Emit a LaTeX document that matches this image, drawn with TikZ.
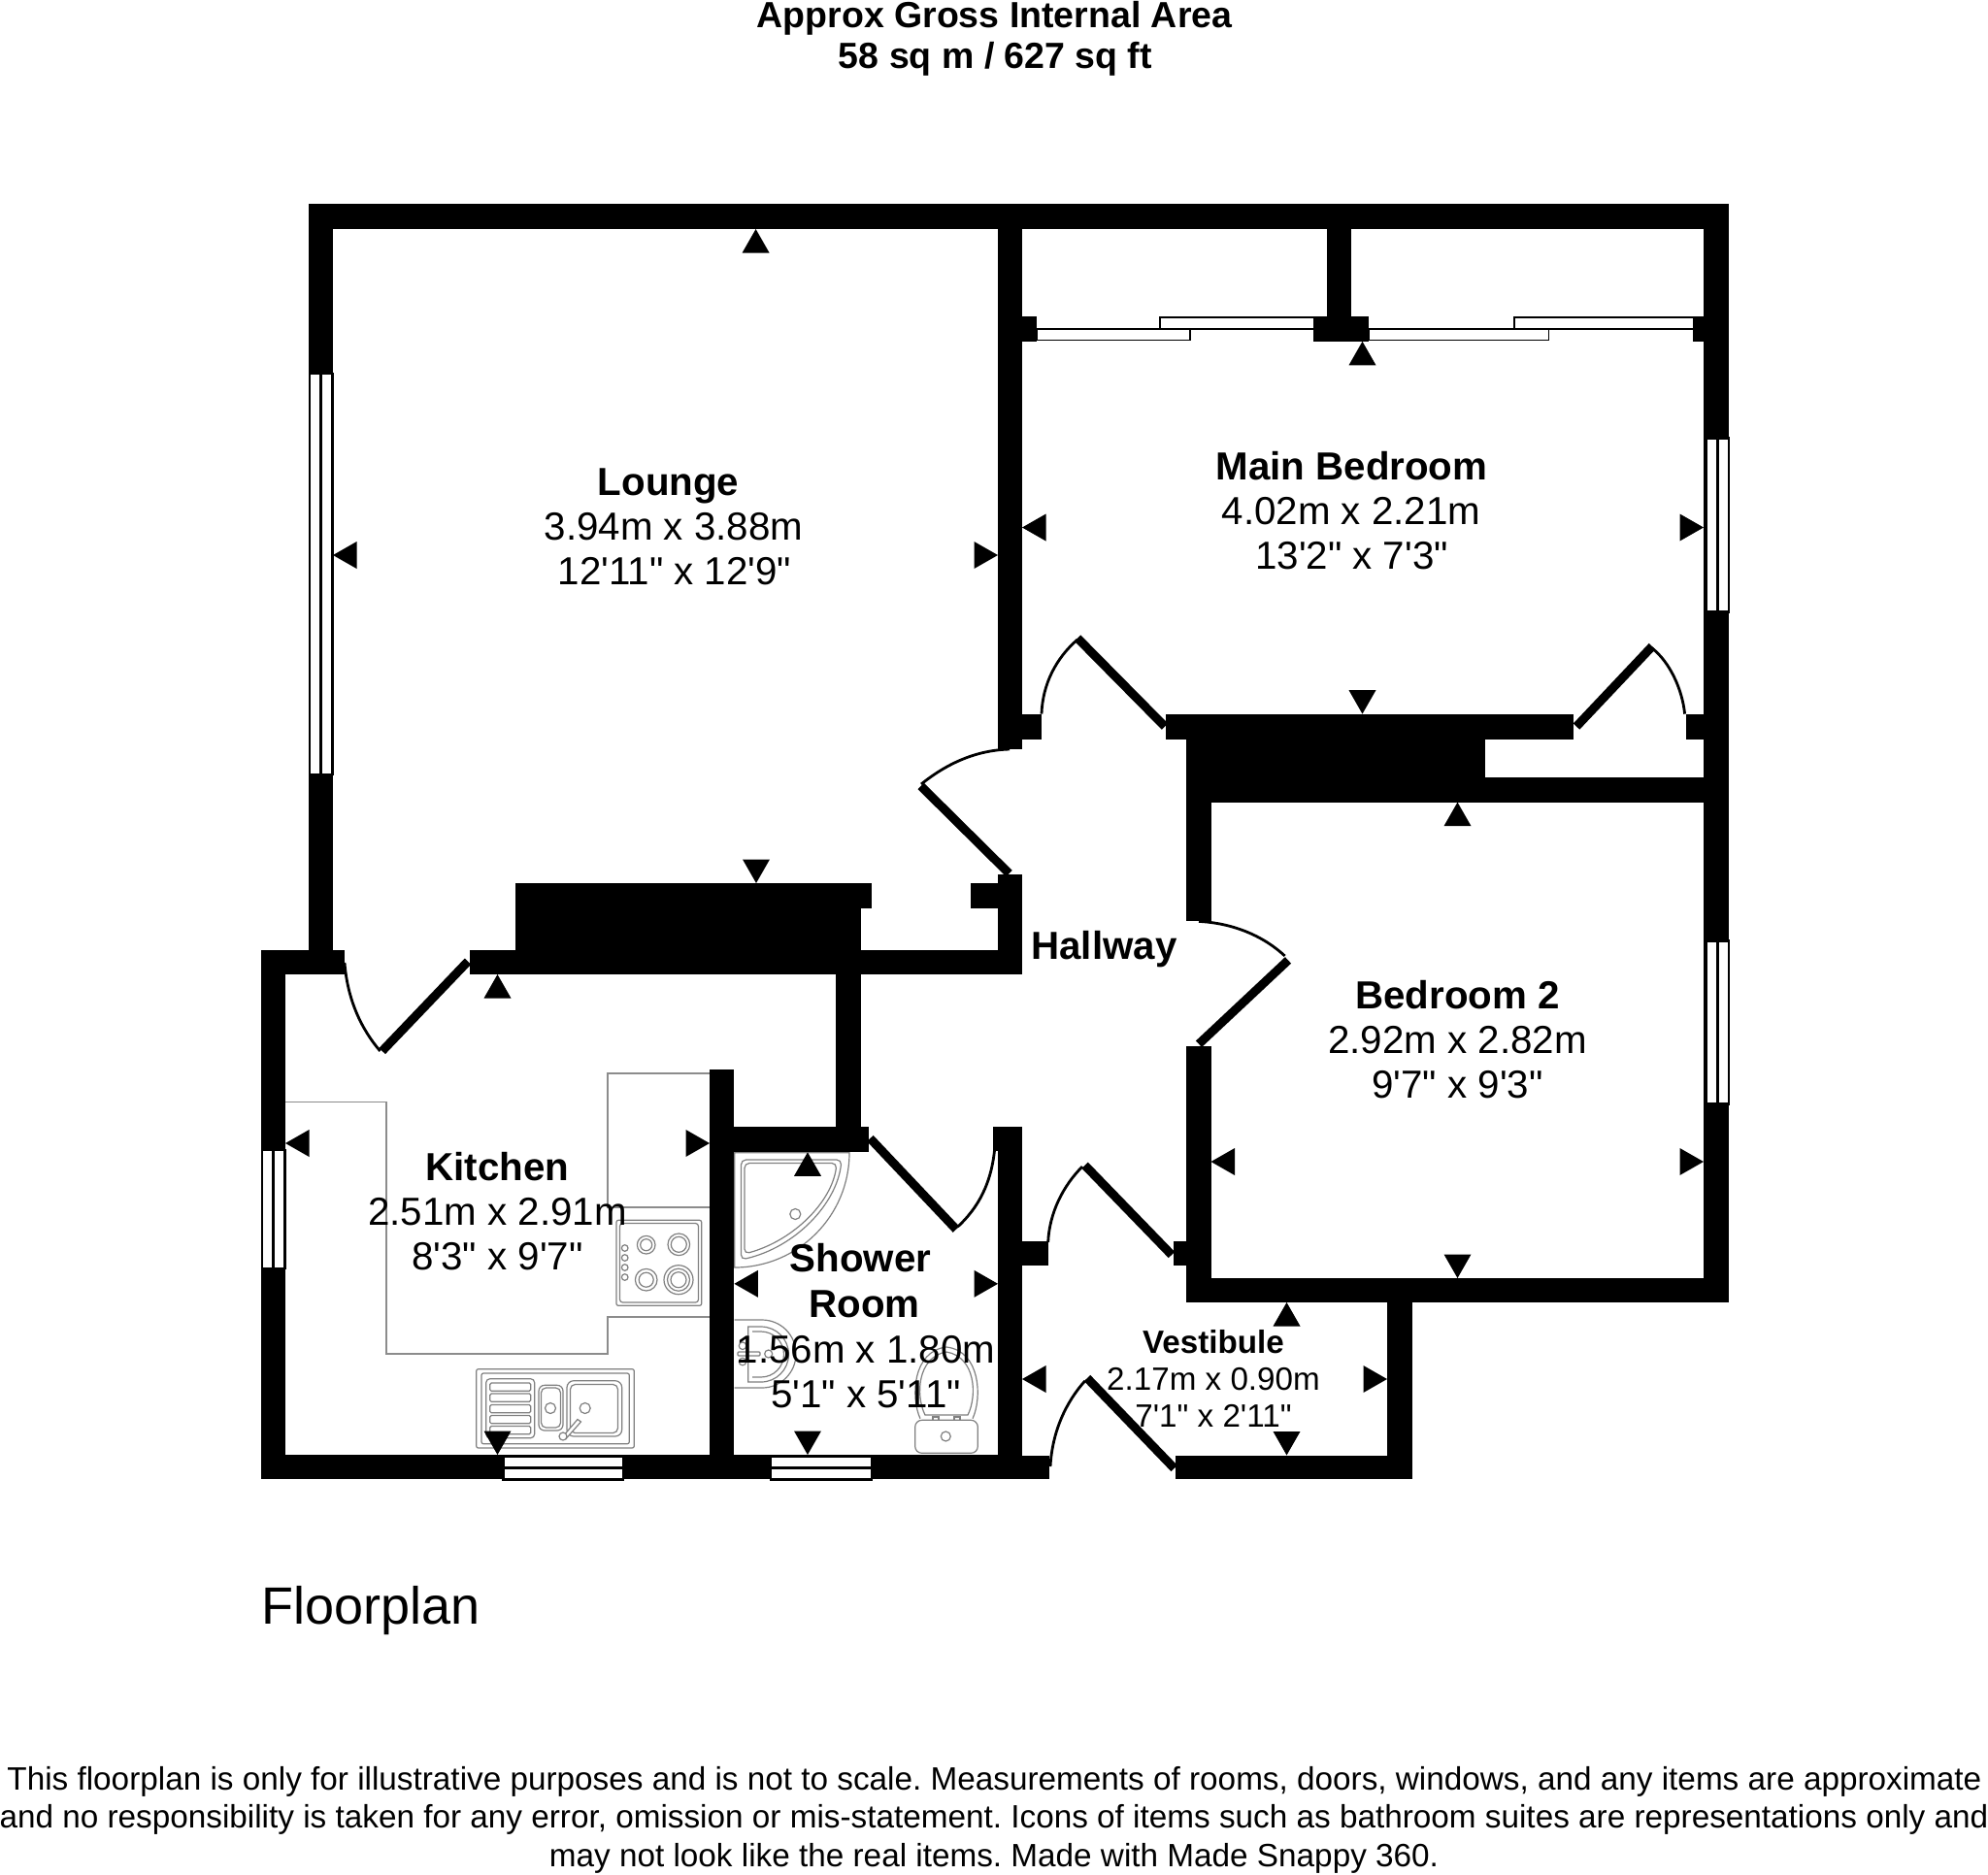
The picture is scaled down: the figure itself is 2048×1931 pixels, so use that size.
\documentclass[tikz,border=0pt]{standalone}
\usepackage{fontspec}
\newfontfamily\planfont{Liberation Sans}
\frenchspacing
\newcommand{\wl}[4]{\fill[wallfill] (#1,#2) rectangle (#3,#4);}
\newcommand{\arU}[2]{\fill[wallfill] (#1,#2) -- ++(-14,24.5) -- ++(28,0) -- cycle;}
\newcommand{\arD}[2]{\fill[wallfill] (#1,#2) -- ++(-14,-24.5) -- ++(28,0) -- cycle;}
\newcommand{\arL}[2]{\fill[wallfill] (#1,#2) -- ++(24.5,-14) -- ++(0,28) -- cycle;}
\newcommand{\arR}[2]{\fill[wallfill] (#1,#2) -- ++(-24.5,-14) -- ++(0,28) -- cycle;}
\newcommand{\winV}[3]{\draw[winline] (#1,#2) rectangle (#1+23.4,#3); \draw[winline] (#1+11.7,#2) -- (#1+11.7,#3);}
\newcommand{\winH}[3]{\draw[winline] (#1,#3) rectangle (#2,#3+23.4); \draw[winline] (#1,#3+11.7) -- (#2,#3+11.7);}
\tikzset{
  wallfill/.style={fill=black,draw=none},
  winline/.style={draw=black,fill=white,line width=2.6pt},
  slide/.style={draw=black,fill=white,line width=1.8pt},
  leaf/.style={draw=black,line width=9pt},
  swing/.style={draw=black,line width=2.8pt},
  fixture/.style={draw=black!50,line width=1.2pt},
  counter/.style={draw=black!45,line width=1.3pt},
  rname/.style={font=\planfont\bfseries\fontsize{40.3}{46}\selectfont,anchor=base,inner sep=0pt},
  rdim/.style={font=\planfont\fontsize{40.3}{46}\selectfont,anchor=base,inner sep=0pt},
  vname/.style={font=\planfont\bfseries\fontsize{33.2}{38}\selectfont,anchor=base,inner sep=0pt},
  vdim/.style={font=\planfont\fontsize{33.2}{38}\selectfont,anchor=base,inner sep=0pt},
  head/.style={font=\planfont\bfseries\fontsize{37.5}{40}\selectfont,anchor=base,inner sep=0pt},
  foot/.style={font=\planfont\fontsize{33.3}{38}\selectfont,anchor=base,inner sep=0pt},
}
\begin{document}
\begin{tikzpicture}[x=1pt,y=-1pt]
\useasboundingbox (0,0) rectangle (2048,1931);
\fill[white] (0,0) rectangle (2048,1931);
% counters
\draw[counter] (294,1135.4) -- (398,1135.4) -- (398,1395) -- (626,1395) -- (626,1357) -- (731,1357);
\draw[counter] (731,1106) -- (626,1106) -- (626,1244) -- (731,1244);
% hob
\draw[fixture,rounded corners=2pt] (635,1257.3) rectangle (722.7,1345.3);
\draw[fixture,rounded corners=3pt] (638.5,1260.5) rectangle (719.5,1342);
\foreach \cx/\cy/\rr in {665.7/1282.7/9.3,665.7/1282.7/6,699.3/1282.3/11.3,699.3/1282.3/8,665.7/1318.7/11.3,665.7/1318.7/7.5,699/1318.7/15,699/1318.7/11.5,699/1318.7/8}
  \draw[fixture] (\cx,\cy) circle (\rr);
\foreach \cy in {1286,1296,1306,1316} \draw[fixture] (643.7,\cy) circle (3.3);
% kitchen sink
\draw[fixture,rounded corners=2pt] (490.7,1410.7) rectangle (653.3,1492);
\draw[fixture,rounded corners=2pt] (496,1415) rectangle (648.3,1487.7);
\draw[fixture,rounded corners=4pt] (500.7,1420.7) rectangle (550.7,1481.7);
\foreach \sy in {1425,1436,1447.5,1458.5,1469.5}
  \draw[fixture,rounded corners=1.5pt] (504.7,\sy) rectangle (546.7,\sy+8.3);
\draw[fixture,rounded corners=6pt] (555,1427.3) rectangle (580,1474);
\draw[fixture,rounded corners=5pt] (557.5,1430) rectangle (577.5,1471);
\draw[fixture] (567,1451) circle (5.5);
\draw[fixture,rounded corners=7pt] (584,1422.7) rectangle (640.7,1480);
\draw[fixture,rounded corners=5pt] (587.5,1426.5) rectangle (636.5,1476.5);
\draw[fixture] (602.7,1451) circle (5.5);
\draw[fixture,fill=white] (580,1480) -- (595,1462.5) -- (598.5,1465) -- (583,1482.5) -- cycle;
\draw[fixture,fill=white] (580,1480) circle (4);
% shower tray
\draw[fixture] (756.7,1187.7) -- (875,1187.7) arc (0:90:118.3) -- cycle;
\draw[fixture,rounded corners=5pt] (763.5,1195) -- (867,1195) .. controls (862,1240) and (820,1285) .. (763.5,1298) -- cycle;
\draw[fixture,rounded corners=5pt] (767,1198.5) -- (862,1198.5) .. controls (857,1238) and (818,1278) .. (767,1292) -- cycle;
\draw[fixture] (819.3,1251) circle (5.5);
% basin
\draw[fixture] (756.7,1360) -- (785,1360) arc (-90:90:35) -- (756.7,1430);
\draw[fixture] (770.7,1367) -- (784,1367) arc (-90:90:28.5) -- (770.7,1424) -- cycle;
\draw[fixture] (775,1372) -- (784,1372) arc (-90:90:23.5) -- (775,1419);
\draw[fixture] (765,1386.7) circle (3.8);
\draw[fixture] (765,1403) circle (3.8);
\draw[fixture,rounded corners=1pt] (760,1393) rectangle (783,1397);
\draw[fixture] (791.7,1395) circle (4);
% toilet
\draw[fixture,rounded corners=7pt] (942.7,1463.3) rectangle (1007.3,1497.3);
\draw[fixture] (974.3,1480) circle (5);
\draw[fixture] (948,1461.7) .. controls (938,1440) and (940,1392) .. (975,1388) .. controls (1010,1392) and (1012,1440) .. (1002,1461.7);
\draw[fixture] (953,1458) .. controls (943,1438) and (945,1398) .. (975,1393) .. controls (1005,1398) and (1007,1438) .. (997,1458) -- cycle;
\draw[fixture] (961,1460) rectangle (967,1463.3);
\draw[fixture] (983,1460) rectangle (989,1463.3);
% walls
\wl{317.5}{210.4}{1781}{236}
\wl{317.5}{210.4}{343}{1000}
\wl{1028}{210.4}{1053}{772.4}
\wl{1367}{210.4}{1392}{340}
\wl{1353}{325.8}{1410}{351.8}
\wl{1053}{325.8}{1068}{351.8}
\wl{1744}{325.8}{1755}{351.8}
\wl{1755}{210.4}{1781}{1342}
\wl{1053}{735.6}{1073}{761.6}
\wl{1201}{735.6}{1621}{761.6}
\wl{1222}{761}{1530}{801}
\wl{1222}{800.6}{1755}{826.6}
\wl{1736.6}{735.6}{1755}{761.6}
\wl{1222}{800}{1247.5}{949.4}
\wl{1222}{1077.8}{1247.5}{1342}
\wl{1222}{1317}{1781}{1342}
\wl{1208.7}{1279}{1222}{1304}
\wl{1053}{1279}{1080}{1304}
\wl{1429}{1342}{1455}{1524.4}
\wl{1211}{1499.5}{1455}{1524.4}
\wl{1028}{1161.3}{1053}{1524.4}
\wl{1023.3}{1161.3}{1028}{1186}
\wl{1053}{1499.5}{1081}{1524.4}
\wl{268.7}{1499}{1053}{1524.4}
\wl{268.7}{979}{294}{1524.4}
\wl{268.7}{979}{355}{1004}
\wl{484}{979}{1053}{1004}
\wl{531}{910}{886.5}{979}
\wl{531}{910}{898}{936}
\wl{1000}{910}{1028}{936}
\wl{1028}{900.8}{1053}{1004}
\wl{861}{1004}{886.5}{1161.3}
\wl{756.4}{1161.3}{895}{1187.3}
\wl{731}{1101.6}{756.4}{1524.4}
% windows
\winV{318.9}{385}{798}
\winV{1757.6}{451.5}{630.2}
\winV{1757.6}{969.6}{1137.6}
\winV{270}{1185}{1307}
\winH{518.7}{642}{1501}
\winH{794}{898}{1501}
% sliding doors
\draw[slide] (1195,327) rectangle (1354,338.6);
\draw[slide] (1068,338.6) rectangle (1226,350.5);
\draw[slide] (1560,327) rectangle (1745,338.6);
\draw[slide] (1410,338.6) rectangle (1595.5,350.5);
% door leaves and swings
\draw[leaf] (1110,657.5) -- (1200,748.6);
\draw[swing] (1073,735.6) .. controls (1074,705) and (1088,678) .. (1110,659);
\draw[leaf] (1624,748.6) -- (1702,666);
\draw[swing] (1735.6,735.6) .. controls (1733,710) and (1720,682) .. (1702,668);
\draw[leaf] (948.7,810) -- (1039.5,900);
\draw[swing] (949,808) .. controls (975,787) and (1005,773) .. (1040,772);
\draw[leaf] (393.7,1083) -- (482,990.6);
\draw[swing] (355,992) .. controls (358,1030) and (372,1060) .. (391.6,1083);
\draw[leaf] (896.4,1173) -- (985,1266.7);
\draw[swing] (986.7,1264) .. controls (1007,1245) and (1022,1220) .. (1025,1180);
\draw[leaf] (1327,989.4) -- (1235,1075.7);
\draw[swing] (1235,949.4) .. controls (1268,951) and (1300,963) .. (1323.6,985);
\draw[leaf] (1207,1293) -- (1117.6,1200.7);
\draw[swing] (1079.7,1280) .. controls (1081,1250) and (1095,1222) .. (1115,1202);
\draw[leaf] (1209.7,1513) -- (1120,1420);
\draw[swing] (1082,1511) .. controls (1084,1475) and (1098,1445) .. (1117.6,1423);
% dimension arrows
\arU{778.6}{236} \arD{779}{910} \arL{343}{572} \arR{1028}{572}
\arU{1403.5}{351.8} \arD{1403.5}{735.6} \arL{1053}{543.5} \arR{1755}{543.5}
\arU{1501.5}{826.6} \arD{1501.5}{1317} \arL{1247.5}{1197} \arR{1755}{1197}
\arU{512.5}{1004} \arD{512.5}{1499} \arL{294}{1178} \arR{731}{1178}
\arU{832}{1187.3} \arD{832}{1499} \arL{756.4}{1322.8} \arR{1028}{1322.8}
\arU{1325.5}{1342} \arD{1325.5}{1499.5} \arL{1053}{1421} \arR{1429}{1421}
% text
\node[head] (h1) at (1024.5,28.5) {Approx Gross Internal Area};
\node[head] (h2) at (1025.5,70.5) {58 sq m / 627 sq ft};
\node[rname] (lg1) at (688.5,510) {Lounge};
\node[rdim] (lg2) at (694,556.5) {3.94m x 3.88m};
\node[rdim] (lg3) at (695,602.5) {12'11" x 12'9"};
\node[rname] (mb1) at (1392.5,494) {Main Bedroom};
\node[rdim] (mb2) at (1392,540.4) {4.02m x 2.21m};
\node[rdim] (mb3) at (1392.5,586) {13'2" x 7'3"};
\node[rname] (b21) at (1501.5,1039) {Bedroom 2};
\node[rdim] (b22) at (1501.5,1085) {2.92m x 2.82m};
\node[rdim] (b23) at (1501.5,1131) {9'7" x 9'3"};
\node[rname] (hw) at (1137.5,988.6) {Hallway};
\node[rname] (ki1) at (512.5,1216) {Kitchen};
\node[rdim] (ki2) at (512.5,1262.5) {2.51m x 2.91m};
\node[rdim] (ki3) at (512.5,1308.5) {8'3" x 9'7"};
\node[rname] (sr1) at (886.5,1310.5) {Shower};
\node[rname] (sr2) at (890.5,1357.5) {Room};
\node[rdim] (sr3) at (892,1404.5) {1.56m x 1.80m};
\node[rdim] (sr4) at (892,1450.5) {5'1" x 5'11"};
\node[vname] (ve1) at (1250,1394) {Vestibule};
\node[vdim] (ve2) at (1250,1432) {2.17m x 0.90m};
\node[vdim] (ve3) at (1250,1470.5) {7'1" x 2'11"};
\node[font=\planfont\fontsize{54}{60}\selectfont,anchor=base west,inner sep=0pt] (fp) at (269,1673) {Floorplan};
\node[foot] (f1) at (1024.5,1844) {This floorplan is only for illustrative purposes and is not to scale. Measurements of rooms, doors, windows, and any items are approximate};
\node[foot] (f2) at (1024,1883) {and no responsibility is taken for any error, omission or mis-statement. Icons of items such as bathroom suites are representations only and};
\node[foot] (f3) at (1024,1923) {may not look like the real items. Made with Made Snappy 360.};
\end{tikzpicture}
\end{document}
